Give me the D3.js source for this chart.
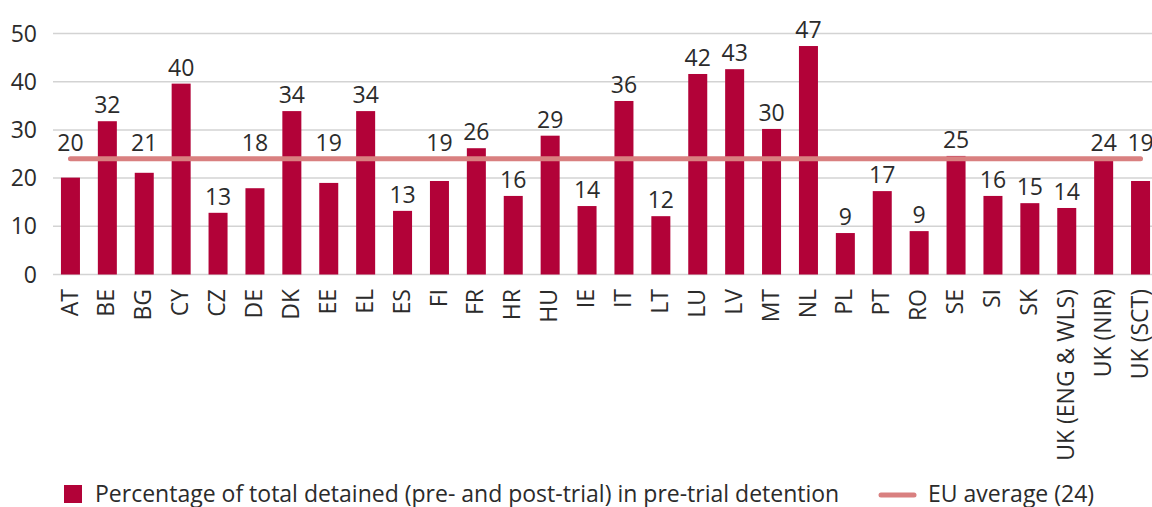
<!DOCTYPE html>
<html>
<head>
<meta charset="utf-8">
<script src="https://cdn.jsdelivr.net/npm/d3@7"></script>
<style>
  html, body { margin: 0; padding: 0; background: #fff; }
  svg { display: block; font-family: "Open Sans", "Noto Sans", sans-serif; }
</style>
</head>
<body>
<svg id="chart" width="1152" height="507"></svg>
<script>
const categories = ["AT","BE","BG","CY","CZ","DE","DK","EE","EL","ES","FI","FR","HR","HU","IE","IT","LT","LU","LV","MT","NL","PL","PT","RO","SE","SI","SK","UK (ENG & WLS)","UK (NIR)","UK (SCT)"];
const pretrialShare = [20.1,31.8,21.1,39.6,12.8,17.9,33.9,19.0,33.9,13.2,19.4,26.2,16.3,28.8,14.2,36.0,12.1,41.6,42.6,30.2,47.4,8.6,17.3,9.0,24.6,16.3,14.8,13.8,23.8,19.4];
const euAverage = 24;
const yTicks = [0,10,20,30,40,50];
const seriesNames = ["Percentage of total detained (pre- and post-trial) in pre-trial detention", "EU average (24)"];

(function () {
const barColor = "#b20238";
const lineColor = "#d98080";
const textColor = "#2b2b2b";
const gridColor = "#d3d3d3";

const svg = d3.select("#chart");
const mLeft = 52, mRight = 1159, mTop = 33.5, mBottom = 274.5;

const x = d3.scaleBand().domain(categories).range([mLeft, mRight]).paddingInner(0.485).paddingOuter(0.2425);
const y = d3.scaleLinear().domain([0, 50]).range([mBottom, mTop]);

// gridlines
svg.append("g").selectAll("line").data(yTicks).join("line")
  .attr("x1", mLeft + 1).attr("x2", mRight)
  .attr("y1", d => y(d)).attr("y2", d => y(d))
  .attr("stroke", gridColor).attr("stroke-width", 1.5);

// y tick labels
svg.append("g").selectAll("text").data(yTicks).join("text")
  .attr("x", 37).attr("y", d => y(d)).attr("dy", "0.35em")
  .attr("text-anchor", "end").attr("font-size", 23).attr("fill", textColor)
  .text(d => d);

// bars
svg.append("g").selectAll("rect").data(categories).join("rect")
  .attr("x", d => x(d)).attr("width", x.bandwidth())
  .attr("y", (d, i) => y(pretrialShare[i]))
  .attr("height", (d, i) => y(0) - y(pretrialShare[i]))
  .attr("fill", barColor);

// EU average line
const avgLine = d3.line().x(d => x(d) + x.bandwidth() / 2).y(() => y(euAverage));
svg.append("path").datum(categories).attr("d", avgLine)
  .attr("fill", "none").attr("stroke", lineColor).attr("stroke-width", 5)
  .attr("stroke-linecap", "round");

// value labels (labels that would clash with the average line are lifted above it)
svg.append("g").selectAll("text").data(categories).join("text")
  .attr("x", d => x(d) + x.bandwidth() / 2)
  .attr("y", (d, i) => {
    const v = pretrialShare[i];
    const anchor = (v >= 17.5 && v < euAverage) ? euAverage : v;
    return y(anchor) - 16;
  })
  .attr("dy", "0.35em").attr("text-anchor", "middle")
  .attr("font-size", 23).attr("fill", textColor)
  .text((d, i) => Math.round(pretrialShare[i]));

// x labels
svg.append("g").selectAll("text").data(categories).join("text")
  .attr("transform", d => `translate(${x(d) + x.bandwidth() / 2 - 1},289) rotate(-90)`)
  .attr("dy", "0.35em").attr("text-anchor", "end")
  .attr("font-size", 23).attr("fill", textColor)
  .text(d => d);

// legend
const lg = svg.append("g");
lg.append("rect").attr("x", 64).attr("y", 485).attr("width", 18).attr("height", 18).attr("fill", barColor);
lg.append("text").attr("x", 95).attr("y", 494).attr("dy", "0.35em")
  .attr("font-size", 23).attr("fill", textColor).text(seriesNames[0]);
lg.append("line").attr("x1", 881).attr("x2", 914).attr("y1", 495).attr("y2", 495)
  .attr("stroke", lineColor).attr("stroke-width", 5).attr("stroke-linecap", "round");
lg.append("text").attr("x", 928).attr("y", 494).attr("dy", "0.35em")
  .attr("font-size", 23).attr("fill", textColor).text(seriesNames[1]);
})();
</script>
</body>
</html>
